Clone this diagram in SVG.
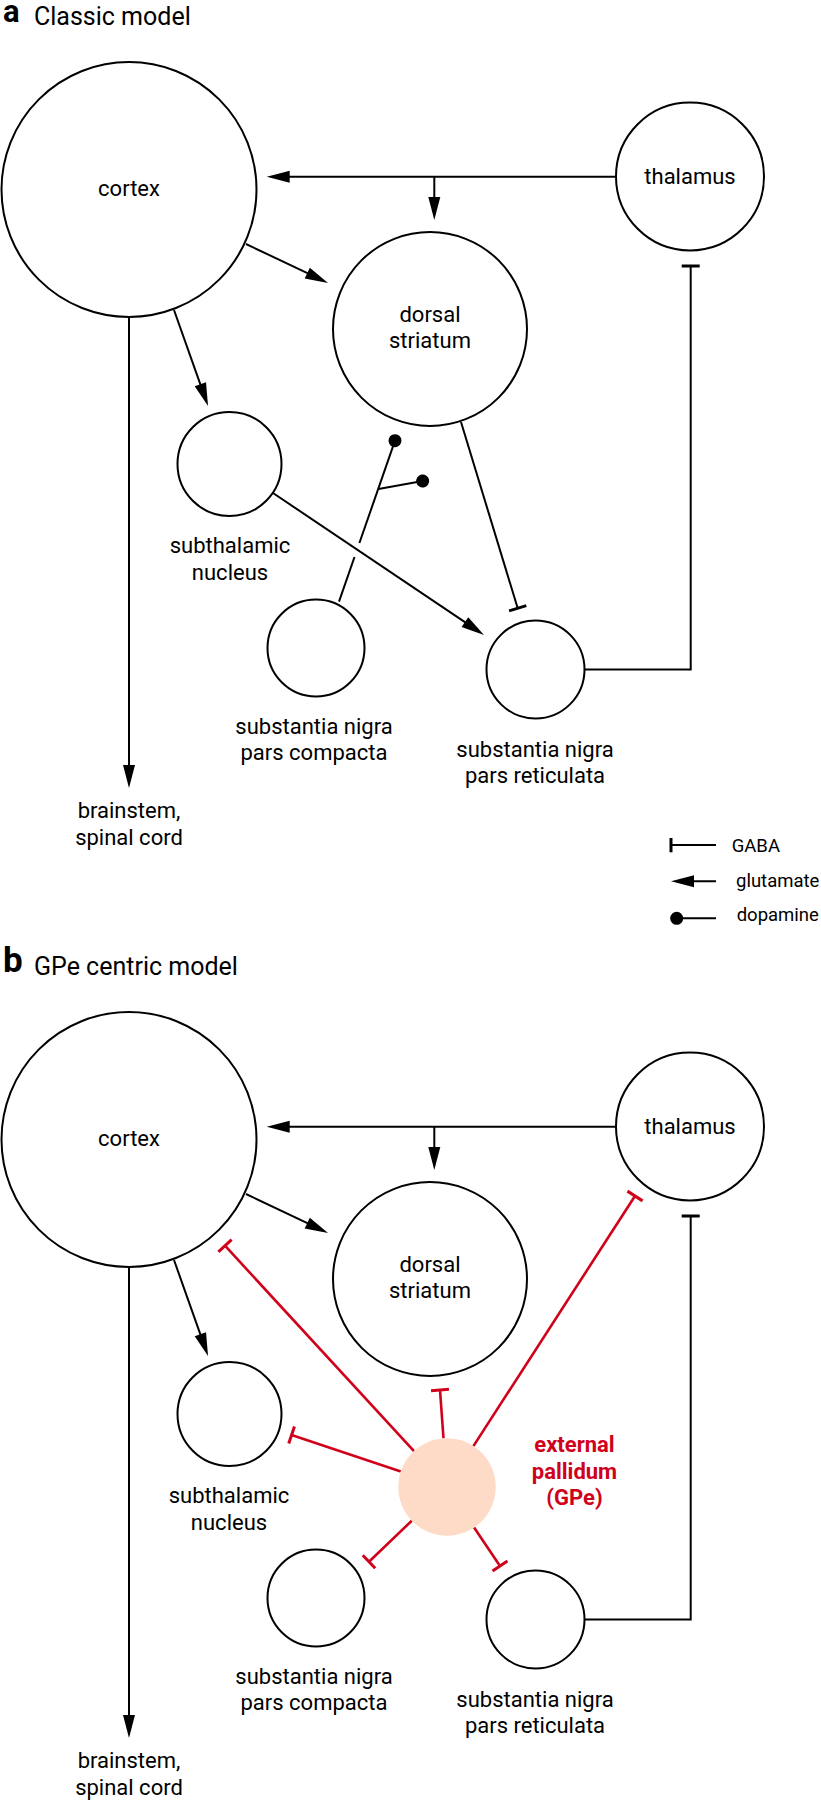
<svg xmlns="http://www.w3.org/2000/svg" width="821" height="1800" viewBox="0 0 821 1800">
<style>
text{font-family:Roboto,"Liberation Sans",sans-serif;fill:#000}
.lbl{font-size:22px;text-anchor:middle}
.ttl{font-size:25px}
.let{font-size:31px;font-weight:bold}
.letb{font-size:35px;font-weight:bold}
.leg{font-size:18.5px}
.gpe{font-size:22px;font-weight:bold;fill:#D0021B;text-anchor:middle}
.node{fill:#fff;stroke:#000;stroke-width:2}
.c{fill:none;stroke:#000;stroke-width:2}
.r{fill:none;stroke:#D0021B;stroke-width:2.6}
</style>
<defs>
<marker id="arr" markerUnits="userSpaceOnUse" markerWidth="24" markerHeight="14" refX="13" refY="7" orient="auto" overflow="visible">
<path d="M0,1 L23,7 L0,13 z" fill="#000"/>
</marker>
<marker id="bar" markerUnits="userSpaceOnUse" markerWidth="4" markerHeight="20" refX="0" refY="0" orient="auto" overflow="visible">
<path d="M0,-9 L0,9" stroke="#000" stroke-width="3"/>
</marker>
<marker id="rbar" markerUnits="userSpaceOnUse" markerWidth="4" markerHeight="20" refX="0" refY="0" orient="auto" overflow="visible">
<path d="M0,-9 L0,9" stroke="#D0021B" stroke-width="3"/>
</marker>
<marker id="dot" markerUnits="userSpaceOnUse" markerWidth="14" markerHeight="14" refX="0" refY="0" orient="auto" overflow="visible">
<circle cx="0" cy="0" r="6.5" fill="#000"/>
</marker>
</defs>

<!-- titles -->
<text class="let" x="3" y="22">a</text>
<text class="ttl" x="34" y="25">Classic model</text>
<text class="letb" x="3" y="972">b</text>
<text class="ttl" x="34" y="975">GPe centric model</text>

<!-- connectors -->
<g id="connectors">
<!-- section a -->
<path class="c" d="M616,176.7 L276.7,176.7" marker-end="url(#arr)"/>
<path class="c" d="M434.3,176.7 L434.3,210" marker-end="url(#arr)"/>
<path class="c" d="M246,244 L319,278.7" marker-end="url(#arr)"/>
<path class="c" d="M174,310 L204.7,396.6" marker-end="url(#arr)"/>
<path class="c" d="M129,317 L129,778" marker-end="url(#arr)"/>
<path class="c" d="M273,493 L475.7,629.4" marker-end="url(#arr)"/>
<path class="c" d="M461,422 L517.7,608.3" marker-end="url(#bar)"/>
<path class="c" d="M584.5,669.5 L690.7,669.5 L690.7,266" marker-end="url(#bar)"/>
<path class="c" d="M339,601.7 L354.5,557"/>
<path class="c" d="M359.4,543 L395,440.7" marker-end="url(#dot)"/>
<path class="c" d="M378.5,489 L422.7,481" marker-end="url(#dot)"/>
<!-- section b -->
<path class="c" d="M616,1126.7 L276.7,1126.7" marker-end="url(#arr)"/>
<path class="c" d="M434.3,1126.7 L434.3,1160" marker-end="url(#arr)"/>
<path class="c" d="M246,1194 L319,1228.7" marker-end="url(#arr)"/>
<path class="c" d="M174,1260 L204.7,1346.6" marker-end="url(#arr)"/>
<path class="c" d="M129,1267 L129,1728" marker-end="url(#arr)"/>
<path class="c" d="M584.5,1619.5 L690.7,1619.5 L690.7,1216" marker-end="url(#bar)"/>
<path class="r" d="M414,1451.2 L225,1245.7" marker-end="url(#rbar)"/>
<path class="r" d="M473.4,1446.1 L635,1196" marker-end="url(#rbar)"/>
<path class="r" d="M443.5,1438.4 L440,1390" marker-end="url(#rbar)"/>
<path class="r" d="M400.8,1471.6 L291.6,1435" marker-end="url(#rbar)"/>
<path class="r" d="M411.8,1520.7 L369,1561.7" marker-end="url(#rbar)"/>
<path class="r" d="M474.1,1527.5 L500,1566" marker-end="url(#rbar)"/>
</g>

<!-- section a nodes -->
<g id="a-cortex"><circle class="node" cx="129" cy="189.5" r="127.5"/><text class="lbl" x="129" y="196">cortex</text></g>
<g id="a-thalamus"><circle class="node" cx="690" cy="176.5" r="74"/><text class="lbl" x="690" y="183.5">thalamus</text></g>
<g id="a-striatum"><circle class="node" cx="430" cy="329" r="97"/><text class="lbl" x="430" y="321.7">dorsal</text><text class="lbl" x="430" y="348.3">striatum</text></g>
<g id="a-stn"><circle class="node" cx="229.5" cy="464" r="52"/><text class="lbl" x="230" y="553">subthalamic</text><text class="lbl" x="230" y="580">nucleus</text></g>
<g id="a-snc"><circle class="node" cx="316" cy="648" r="48.5"/><text class="lbl" x="314" y="734">substantia nigra</text><text class="lbl" x="314" y="760">pars compacta</text></g>
<g id="a-snr"><circle class="node" cx="535.5" cy="669.5" r="49"/><text class="lbl" x="535" y="757">substantia nigra</text><text class="lbl" x="535" y="783">pars reticulata</text></g>
<g id="a-brainstem"><text class="lbl" x="129" y="818">brainstem,</text><text class="lbl" x="129" y="845">spinal cord</text></g>

<!-- legend -->
<g id="legend">
<path class="c" d="M716,845 L671,845"/>
<path d="M671,838 L671,852.3" stroke="#000" stroke-width="3"/>
<text class="leg" x="731.7" y="851.7">GABA</text>
<path class="c" d="M716,881.3 L681,881.3" marker-end="url(#arr)"/>
<text class="leg" x="736" y="886.7">glutamate</text>
<path class="c" d="M716,918.3 L676.7,918.3" marker-end="url(#dot)"/>
<text class="leg" x="736.7" y="920.5">dopamine</text>
</g>

<!-- section b nodes -->
<g id="b-cortex"><circle class="node" cx="129" cy="1139.5" r="127.5"/><text class="lbl" x="129" y="1146">cortex</text></g>
<g id="b-thalamus"><circle class="node" cx="690" cy="1126.5" r="74"/><text class="lbl" x="690" y="1133.5">thalamus</text></g>
<g id="b-striatum"><circle class="node" cx="430" cy="1279" r="97"/><text class="lbl" x="430" y="1271.7">dorsal</text><text class="lbl" x="430" y="1298.3">striatum</text></g>
<g id="b-stn"><circle class="node" cx="229.5" cy="1414" r="52"/><text class="lbl" x="229" y="1503">subthalamic</text><text class="lbl" x="229" y="1530">nucleus</text></g>
<g id="b-snc"><circle class="node" cx="316" cy="1598" r="48.5"/><text class="lbl" x="314" y="1684">substantia nigra</text><text class="lbl" x="314" y="1710">pars compacta</text></g>
<g id="b-snr"><circle class="node" cx="535.5" cy="1619.5" r="49"/><text class="lbl" x="535" y="1707">substantia nigra</text><text class="lbl" x="535" y="1733">pars reticulata</text></g>
<g id="b-gpe"><circle cx="447" cy="1487" r="48.7" fill="#FDDBC7"/><text class="gpe" x="574.5" y="1452">external</text><text class="gpe" x="574.5" y="1478.5">pallidum</text><text class="gpe" x="574.5" y="1505">(GPe)</text></g>
<g id="b-brainstem"><text class="lbl" x="129" y="1768">brainstem,</text><text class="lbl" x="129" y="1795">spinal cord</text></g>
</svg>
